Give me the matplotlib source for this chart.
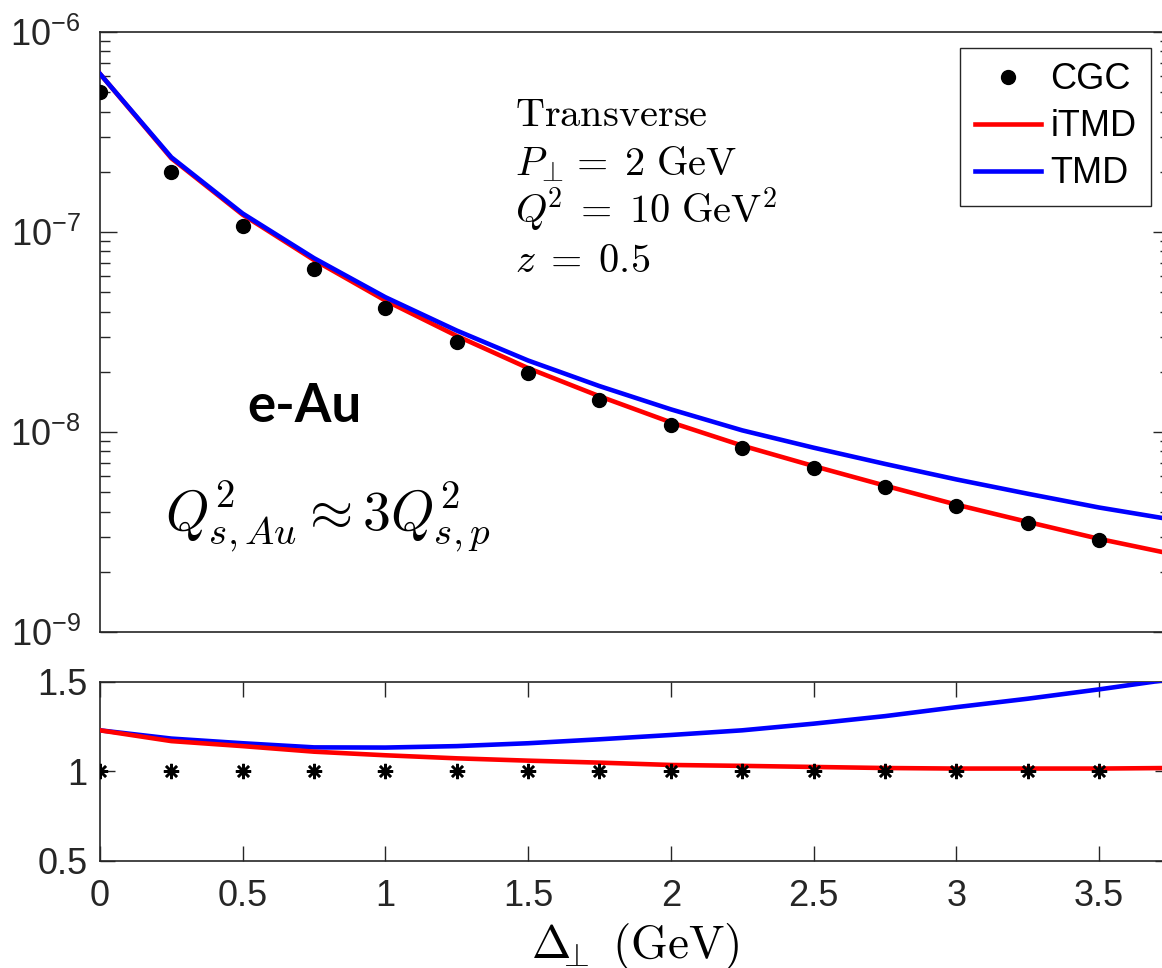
import matplotlib
matplotlib.use("Agg")
import matplotlib.pyplot as plt
import numpy as np
from matplotlib.lines import Line2D

plt.rcParams['font.family'] = ['Liberation Sans', 'DejaVu Sans']
plt.rcParams['mathtext.fontset'] = 'custom'
plt.rcParams['mathtext.rm'] = 'Liberation Sans'
plt.rcParams['mathtext.it'] = 'Liberation Sans:italic'
plt.rcParams['axes.unicode_minus'] = False

# Momentum imbalance grid (GeV)
delta = [0.0, 0.25, 0.5, 0.75, 1.0, 1.25, 1.5, 1.75, 2.0, 2.25, 2.5, 2.75, 3.0, 3.25, 3.5, 3.75]

# CGC cross section
cgc = [5.03e-7, 2.00e-7, 1.07e-7, 6.53e-8, 4.17e-8, 2.82e-8, 1.97e-8, 1.44e-8,
       1.08e-8, 8.30e-9, 6.60e-9, 5.30e-9, 4.27e-9, 3.50e-9, 2.88e-9, 2.42e-9]

# Ratios to CGC
itmd_ratio = [1.228, 1.168, 1.140, 1.109, 1.089, 1.072, 1.059, 1.048,
              1.035, 1.030, 1.024, 1.018, 1.015, 1.015, 1.015, 1.018]
tmd_ratio = [1.228, 1.182, 1.156, 1.133, 1.132, 1.140, 1.156, 1.178,
             1.202, 1.228, 1.265, 1.307, 1.357, 1.404, 1.456, 1.512]

xtick_vals = [0, 0.5, 1, 1.5, 2, 2.5, 3, 3.5]
xtick_labels = ["0", "0.5", "1", "1.5", "2", "2.5", "3", "3.5"]
ytick_log_vals = [1e-9, 1e-8, 1e-7, 1e-6]
ytick_log_labels = [r"$10^{-9}$", r"$10^{-8}$", r"$10^{-7}$", r"$10^{-6}$"]
ytick_ratio_vals = [0.5, 1.0, 1.5]
ytick_ratio_labels = ["0.5", "1", "1.5"]

cgc_a = np.array(cgc)
itmd = np.array(itmd_ratio) * cgc_a
tmd = np.array(tmd_ratio) * cgc_a
cgc_ratio = cgc_a / cgc_a

W, H = 1162, 968
fig = plt.figure(figsize=(W / 100, H / 100), dpi=100)

def fx(px):
    return px / W

def fy(py):
    return 1 - py / H

axc = '#262626'
left_px, right_px = 100, 1170.3
ax1 = fig.add_axes([fx(left_px), fy(632), (right_px - left_px) / W, 600 / H])
ax2 = fig.add_axes([fx(left_px), fy(861), (right_px - left_px) / W, 179.5 / H])

red = (1, 0, 0)
blue = (0, 0, 1)
lw = 3.3
tick_fs = 26

# Upper panel: cross sections
ax1.plot(delta, itmd, color=red, lw=lw, zorder=3, solid_joinstyle='round')
ax1.plot(delta, tmd, color=blue, lw=lw, zorder=4, solid_joinstyle='round')
ax1.plot(delta, cgc, 'o', color='black', ms=10, zorder=5)
ax1.set_yscale('log')
ax1.set_ylim(1e-9, 1e-6)
ax1.set_xlim(0, 3.75)
ax1.set_yticks(ytick_log_vals)
ax1.set_yticklabels(ytick_log_labels)
ax1.tick_params(axis='x', which='both', bottom=False, top=False, labelbottom=False)
ax1.tick_params(axis='y', which='major', direction='in', length=12, width=1.0,
                left=True, right=True, labelsize=tick_fs, pad=14, colors=axc)
ax1.tick_params(axis='y', which='minor', direction='in', length=7, width=1.0,
                left=True, right=True, colors=axc)

# Lower panel: ratios
ax2.plot(delta, tmd_ratio, color=blue, lw=lw, zorder=3, solid_joinstyle='round')
ax2.plot(delta, itmd_ratio, color=red, lw=lw, zorder=4, solid_joinstyle='round')
ax2.plot(delta, cgc_ratio, linestyle='none', marker=(8, 2, 0), color='black',
         ms=11, mew=1.8, zorder=5)
ax2.set_xlim(0, 3.75)
ax2.set_ylim(0.5, 1.5)
ax2.set_xticks(xtick_vals)
ax2.set_xticklabels(xtick_labels)
ax2.set_yticks(ytick_ratio_vals)
ax2.set_yticklabels(ytick_ratio_labels)
ax2.tick_params(axis='both', which='major', direction='in', length=11, width=1.0,
                top=True, right=True, labelsize=tick_fs, colors=axc)
ax2.tick_params(axis='x', pad=13)
ax2.tick_params(axis='y', pad=9)
ax2.minorticks_off()

for ax in (ax1, ax2):
    for s in ax.spines.values():
        s.set_color(axc)
        s.set_linewidth(1.2)

# x-axis label
fig.text(fx(635), fy(958), r"$\Delta_{\!\!\!\bot}\ (\mathrm{GeV})$", fontsize=34,
         math_fontfamily='cm', ha='center', va='baseline', color='black')

# Kinematics annotation
kin_lines = [r"$\mathrm{Transverse}$", r"$P_{\!\bot}\!\!\;=\;2\ \mathrm{GeV}$",
             r"$Q^{\!2}\;=\;10\ \mathrm{GeV}^2$", r"$z\;=\;0.5$"]
for i, s in enumerate(kin_lines):
    fig.text(fx(515), fy(126 + 48.5 * i), s, fontsize=29, math_fontfamily='cm',
             ha='left', va='baseline', color='black')

fig.text(fx(247), fy(422), "e-Au", fontsize=38, fontweight='bold',
         family=['Lato', 'DejaVu Sans'], ha='left', va='baseline', color='black')
fig.text(fx(165), fy(530), r"$Q^2_{s,Au} \approx 3Q^2_{s,p}$", fontsize=40,
         math_fontfamily='cm', ha='left', va='baseline', color='black')

handles = [Line2D([], [], linestyle='none', marker='o', color='black', ms=10),
           Line2D([], [], color=red, lw=lw),
           Line2D([], [], color=blue, lw=lw)]
leg = ax1.legend(handles, ["CGC", "iTMD", "TMD"], loc='upper right',
                 bbox_to_anchor=(fx(1151), fy(48)), bbox_transform=fig.transFigure,
                 fontsize=26, frameon=True, fancybox=False, framealpha=1,
                 edgecolor=axc, borderaxespad=0, handlelength=1.85,
                 handletextpad=0.25, labelspacing=0.33, borderpad=0.4)
leg.get_frame().set_linewidth(1.0)

fig.savefig("out.png", dpi=100)
